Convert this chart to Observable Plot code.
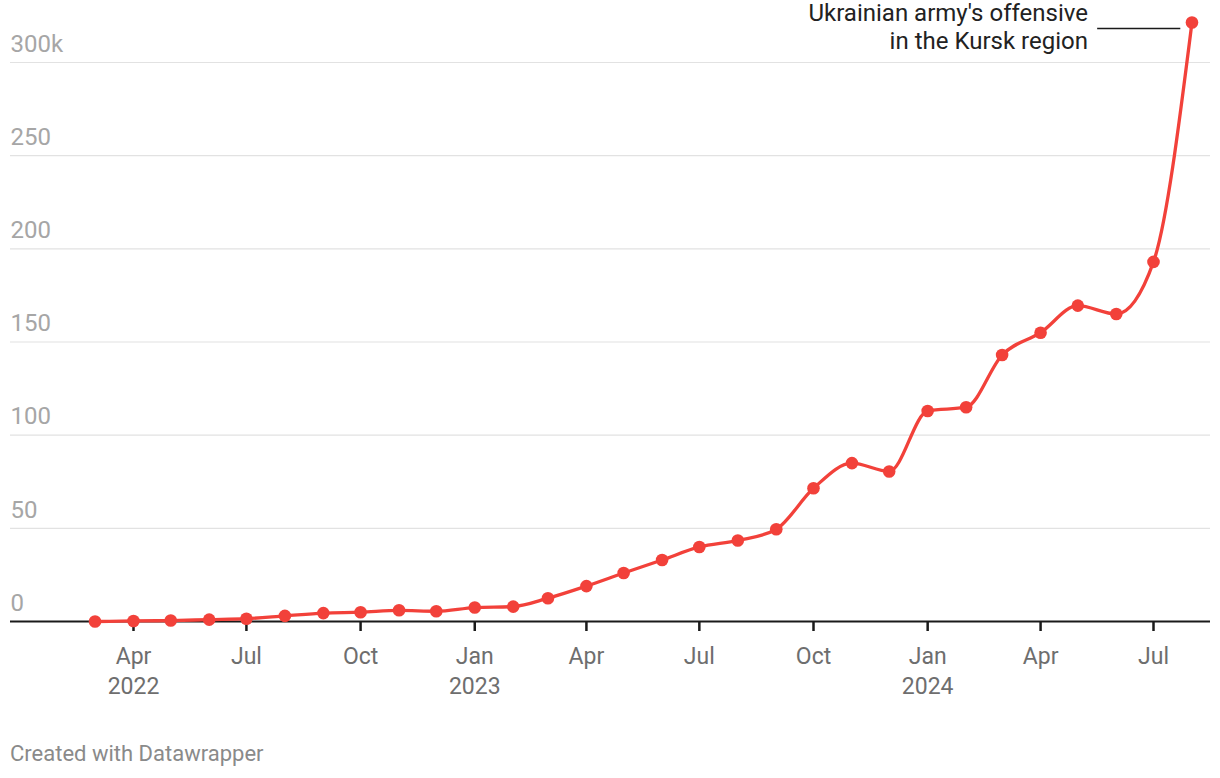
<!DOCTYPE html>
<html>
<head>
<meta charset="utf-8">
<script src="https://cdn.jsdelivr.net/npm/d3@7"></script>
<script src="https://cdn.jsdelivr.net/npm/@observablehq/plot@0.6"></script>
<style>
  html, body { margin: 0; padding: 0; background: #fff; }
  body { width: 1220px; height: 778px; position: relative; overflow: hidden; font-family: Roboto, sans-serif; }
  #chart { position: absolute; left: 0; top: 0; }
  #footer { position: absolute; left: 10px; top: 741px; font-size: 22px; line-height: 26px; color: #8a8a8a; font-family: Roboto, sans-serif; }
</style>
</head>
<body>
<div id="chart"></div>
<div id="footer">Created with Datawrapper</div>
<script>
const months = ["2022-03","2022-04","2022-05","2022-06","2022-07","2022-08","2022-09","2022-10","2022-11","2022-12",
  "2023-01","2023-02","2023-03","2023-04","2023-05","2023-06","2023-07","2023-08","2023-09","2023-10","2023-11","2023-12",
  "2024-01","2024-02","2024-03","2024-04","2024-05","2024-06","2024-07","2024-08"];
const values = [0, 0.3, 0.5, 1, 1.5, 3, 4.5, 5, 6, 5.5,
  7.5, 8, 12.5, 19, 26, 33, 40, 43.5, 49.5, 71.5, 85, 80.5,
  113, 115, 143, 155, 169.5, 165, 193, 321.5];
const yTicks = [0, 50, 100, 150, 200, 250, 300];
const xTicks = ["2022-04","2022-07","2022-10","2023-01","2023-04","2023-07","2023-10","2024-01","2024-04","2024-07"];
const monthNames = ["Jan","Feb","Mar","Apr","May","Jun","Jul","Aug","Sep","Oct","Nov","Dec"];
const annotationText = "Ukrainian army's offensive\nin the Kursk region";

const parse = d3.utcParse("%Y-%m");
const data = months.map((m, i) => ({date: parse(m), value: values[i]}));
const tickDates = xTicks.map(parse);
const last = data[data.length - 1];
const annotation = [{date: last.date, value: last.value, text: annotationText}];

const red = "#f2413a";

const chart = Plot.plot({
  width: 1220,
  height: 720,
  marginLeft: 10,
  marginRight: 10,
  marginTop: 62,
  marginBottom: 99,
  style: {fontFamily: "Roboto, sans-serif", fontSize: "23px", background: "transparent", overflow: "visible"},
  x: {type: "utc", domain: [parse("2022-04"), parse("2024-07")], range: [133, 1153], label: null},
  y: {domain: [0, 300], label: null},
  marks: [
    Plot.gridY(yTicks.filter(d => d > 0), {stroke: "#e2e2e2", strokeOpacity: 1, strokeWidth: 1.2}),
    Plot.axisY(yTicks, {
      anchor: "left", label: null, tickSize: 0, tickPadding: 0, textAnchor: "start", dx: 0, dy: -18.5,
      fill: "#a6a6a6", fontSize: 24,
      tickFormat: d => d === 300 ? "300k" : String(d)
    }),
    Plot.ruleY([0], {stroke: "#1a1a1a", strokeWidth: 2}),
    Plot.axisX(tickDates, {
      anchor: "bottom", label: null, tickSize: 10, tickPadding: 11, stroke: "#1a1a1a", strokeWidth: 2.5,
      fill: "#6e6e6e", fontSize: 23, lineHeight: 1.3,
      tickFormat: d => {
        const m = monthNames[d.getUTCMonth()];
        const y = d.getUTCFullYear();
        return (m === "Jan" || (m === "Apr" && y === 2022)) ? `${m}\n${y}` : m;
      }
    }),
    Plot.line(data, {x: "date", y: "value", stroke: red, strokeWidth: 3.3, curve: "monotone-x"}),
    Plot.dot(data, {x: "date", y: "value", fill: red, r: 6.3}),
    Plot.ruleY(annotation, {
      y: "value",
      x1: d => d3.utcDay.offset(d.date, -76),
      x2: d => d3.utcDay.offset(d.date, -9),
      dy: 6, stroke: "#1a1a1a", strokeWidth: 1.6
    }),
    Plot.text(annotation, {
      x: "date", y: "value", text: "text", dx: -104, dy: 3.4,
      textAnchor: "end", lineAnchor: "middle", lineHeight: 1.167,
      fill: "#222", fontSize: 24
    })
  ]
});
document.getElementById("chart").append(chart);
</script>
</body>
</html>
